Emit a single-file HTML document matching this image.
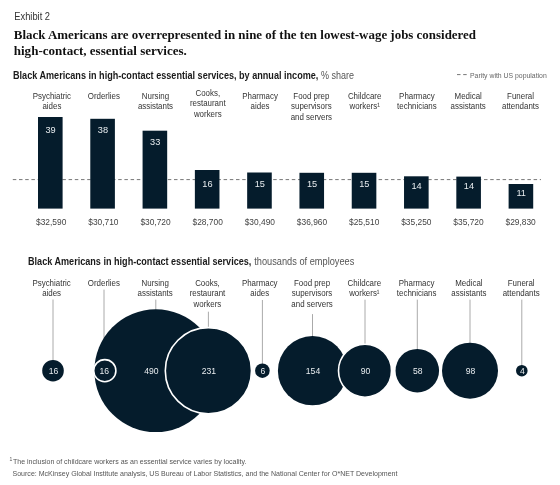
<!DOCTYPE html>
<html><head><meta charset="utf-8"><style>
html,body{margin:0;padding:0;background:#fff;}
svg{display:block;filter:blur(0.35px);}
</style></head><body>
<svg width="560" height="485" viewBox="0 0 560 485">
<rect width="560" height="485" fill="#fff"/>
<text x="14.25" y="20" font-family="Liberation Sans" font-size="10" font-weight="normal" text-anchor="start" fill="#333" textLength="35.75" lengthAdjust="spacingAndGlyphs">Exhibit 2</text>
<text x="13.75" y="38.8" font-family="Liberation Serif" font-size="13.4" font-weight="bold" text-anchor="start" fill="#111" textLength="462.3" lengthAdjust="spacingAndGlyphs">Black Americans are overrepresented in nine of the ten lowest-wage jobs considered</text>
<text x="13.75" y="54.6" font-family="Liberation Serif" font-size="13.4" font-weight="bold" text-anchor="start" fill="#111" textLength="173.1" lengthAdjust="spacingAndGlyphs">high-contact, essential services.</text>
<text x="13" y="78.6" font-family="Liberation Sans" font-size="10" font-weight="bold" text-anchor="start" fill="#1a1a1a" textLength="305.4" lengthAdjust="spacingAndGlyphs">Black Americans in high-contact essential services, by annual income,</text>
<text x="321" y="78.6" font-family="Liberation Sans" font-size="10" font-weight="normal" text-anchor="start" fill="#555" textLength="33" lengthAdjust="spacingAndGlyphs">% share</text>
<line x1="457" y1="74.6" x2="467" y2="74.6" stroke="#777" stroke-width="1" stroke-dasharray="3.5 2.7"/>
<text x="470" y="77.6" font-family="Liberation Sans" font-size="7.5" font-weight="normal" text-anchor="start" fill="#666" textLength="76.7" lengthAdjust="spacingAndGlyphs">Parity with US population</text>
<line x1="12.8" y1="179.6" x2="541" y2="179.6" stroke="#777" stroke-width="1" stroke-dasharray="3.5 2.7"/>
<rect x="38.00" y="117" width="24.6" height="91.60" fill="#051c2c"/>
<text x="50.60" y="132.6" font-family="Liberation Sans" font-size="9.2" font-weight="normal" text-anchor="middle" fill="#e8ecef">39</text>
<text x="51.20" y="224.6" font-family="Liberation Sans" font-size="8.4" font-weight="normal" text-anchor="middle" fill="#444">$32,590</text>
<text x="51.90" y="98.6" font-family="Liberation Sans" font-size="9" font-weight="normal" text-anchor="middle" fill="#333" textLength="38.29" lengthAdjust="spacingAndGlyphs">Psychiatric</text>
<text x="51.90" y="109.3" font-family="Liberation Sans" font-size="9" font-weight="normal" text-anchor="middle" fill="#333" textLength="18.93" lengthAdjust="spacingAndGlyphs">aides</text>
<rect x="90.29" y="118.8" width="24.6" height="89.80" fill="#051c2c"/>
<text x="102.89" y="133.0" font-family="Liberation Sans" font-size="9.2" font-weight="normal" text-anchor="middle" fill="#e8ecef">38</text>
<text x="103.36" y="224.6" font-family="Liberation Sans" font-size="8.4" font-weight="normal" text-anchor="middle" fill="#444">$30,710</text>
<text x="103.79" y="98.6" font-family="Liberation Sans" font-size="9" font-weight="normal" text-anchor="middle" fill="#333" textLength="32.13" lengthAdjust="spacingAndGlyphs">Orderlies</text>
<rect x="142.58" y="130.7" width="24.6" height="77.90" fill="#051c2c"/>
<text x="155.18" y="145.0" font-family="Liberation Sans" font-size="9.2" font-weight="normal" text-anchor="middle" fill="#e8ecef">33</text>
<text x="155.52" y="224.6" font-family="Liberation Sans" font-size="8.4" font-weight="normal" text-anchor="middle" fill="#444">$30,720</text>
<text x="155.48" y="98.6" font-family="Liberation Sans" font-size="9" font-weight="normal" text-anchor="middle" fill="#333" textLength="27.29" lengthAdjust="spacingAndGlyphs">Nursing</text>
<text x="155.48" y="109.3" font-family="Liberation Sans" font-size="9" font-weight="normal" text-anchor="middle" fill="#333" textLength="35.21" lengthAdjust="spacingAndGlyphs">assistants</text>
<rect x="194.87" y="170.0" width="24.6" height="38.60" fill="#051c2c"/>
<text x="207.47" y="186.7" font-family="Liberation Sans" font-size="9.2" font-weight="normal" text-anchor="middle" fill="#e8ecef">16</text>
<text x="207.68" y="224.6" font-family="Liberation Sans" font-size="8.4" font-weight="normal" text-anchor="middle" fill="#444">$28,700</text>
<text x="207.77" y="95.6" font-family="Liberation Sans" font-size="9" font-weight="normal" text-anchor="middle" fill="#333" textLength="24.65" lengthAdjust="spacingAndGlyphs">Cooks,</text>
<text x="207.77" y="106.3" font-family="Liberation Sans" font-size="9" font-weight="normal" text-anchor="middle" fill="#333" textLength="35.66" lengthAdjust="spacingAndGlyphs">restaurant</text>
<text x="207.77" y="117.0" font-family="Liberation Sans" font-size="9" font-weight="normal" text-anchor="middle" fill="#333" textLength="27.72" lengthAdjust="spacingAndGlyphs">workers</text>
<rect x="247.16" y="172.5" width="24.6" height="36.10" fill="#051c2c"/>
<text x="259.76" y="186.7" font-family="Liberation Sans" font-size="9.2" font-weight="normal" text-anchor="middle" fill="#e8ecef">15</text>
<text x="259.84" y="224.6" font-family="Liberation Sans" font-size="8.4" font-weight="normal" text-anchor="middle" fill="#444">$30,490</text>
<text x="260.06" y="98.6" font-family="Liberation Sans" font-size="9" font-weight="normal" text-anchor="middle" fill="#333" textLength="35.65" lengthAdjust="spacingAndGlyphs">Pharmacy</text>
<text x="260.06" y="109.3" font-family="Liberation Sans" font-size="9" font-weight="normal" text-anchor="middle" fill="#333" textLength="18.93" lengthAdjust="spacingAndGlyphs">aides</text>
<rect x="299.45" y="172.8" width="24.6" height="35.80" fill="#051c2c"/>
<text x="312.05" y="186.7" font-family="Liberation Sans" font-size="9.2" font-weight="normal" text-anchor="middle" fill="#e8ecef">15</text>
<text x="312.00" y="224.6" font-family="Liberation Sans" font-size="8.4" font-weight="normal" text-anchor="middle" fill="#444">$36,960</text>
<text x="311.35" y="98.6" font-family="Liberation Sans" font-size="9" font-weight="normal" text-anchor="middle" fill="#333" textLength="36.10" lengthAdjust="spacingAndGlyphs">Food prep</text>
<text x="311.35" y="109.3" font-family="Liberation Sans" font-size="9" font-weight="normal" text-anchor="middle" fill="#333" textLength="40.49" lengthAdjust="spacingAndGlyphs">supervisors</text>
<text x="311.35" y="120.0" font-family="Liberation Sans" font-size="9" font-weight="normal" text-anchor="middle" fill="#333" textLength="41.38" lengthAdjust="spacingAndGlyphs">and servers</text>
<rect x="351.74" y="172.8" width="24.6" height="35.80" fill="#051c2c"/>
<text x="364.34" y="186.7" font-family="Liberation Sans" font-size="9.2" font-weight="normal" text-anchor="middle" fill="#e8ecef">15</text>
<text x="364.16" y="224.6" font-family="Liberation Sans" font-size="8.4" font-weight="normal" text-anchor="middle" fill="#444">$25,510</text>
<text x="364.64" y="98.6" font-family="Liberation Sans" font-size="9" font-weight="normal" text-anchor="middle" fill="#333" textLength="33.46" lengthAdjust="spacingAndGlyphs">Childcare</text>
<text x="364.64" y="109.3" font-family="Liberation Sans" font-size="9" font-weight="normal" text-anchor="middle" fill="#333" textLength="30.36" lengthAdjust="spacingAndGlyphs">workers¹</text>
<rect x="404.03" y="176.3" width="24.6" height="32.30" fill="#051c2c"/>
<text x="416.63" y="188.6" font-family="Liberation Sans" font-size="9.2" font-weight="normal" text-anchor="middle" fill="#e8ecef">14</text>
<text x="416.32" y="224.6" font-family="Liberation Sans" font-size="8.4" font-weight="normal" text-anchor="middle" fill="#444">$35,250</text>
<text x="416.93" y="98.6" font-family="Liberation Sans" font-size="9" font-weight="normal" text-anchor="middle" fill="#333" textLength="35.65" lengthAdjust="spacingAndGlyphs">Pharmacy</text>
<text x="416.93" y="109.3" font-family="Liberation Sans" font-size="9" font-weight="normal" text-anchor="middle" fill="#333" textLength="39.62" lengthAdjust="spacingAndGlyphs">technicians</text>
<rect x="456.32" y="176.6" width="24.6" height="32.00" fill="#051c2c"/>
<text x="468.92" y="188.6" font-family="Liberation Sans" font-size="9.2" font-weight="normal" text-anchor="middle" fill="#e8ecef">14</text>
<text x="468.48" y="224.6" font-family="Liberation Sans" font-size="8.4" font-weight="normal" text-anchor="middle" fill="#444">$35,720</text>
<text x="468.22" y="98.6" font-family="Liberation Sans" font-size="9" font-weight="normal" text-anchor="middle" fill="#333" textLength="27.29" lengthAdjust="spacingAndGlyphs">Medical</text>
<text x="468.22" y="109.3" font-family="Liberation Sans" font-size="9" font-weight="normal" text-anchor="middle" fill="#333" textLength="35.21" lengthAdjust="spacingAndGlyphs">assistants</text>
<rect x="508.61" y="184" width="24.6" height="24.60" fill="#051c2c"/>
<text x="521.21" y="195.7" font-family="Liberation Sans" font-size="9.2" font-weight="normal" text-anchor="middle" fill="#e8ecef">11</text>
<text x="520.64" y="224.6" font-family="Liberation Sans" font-size="8.4" font-weight="normal" text-anchor="middle" fill="#444">$29,830</text>
<text x="520.51" y="98.6" font-family="Liberation Sans" font-size="9" font-weight="normal" text-anchor="middle" fill="#333" textLength="26.85" lengthAdjust="spacingAndGlyphs">Funeral</text>
<text x="520.51" y="109.3" font-family="Liberation Sans" font-size="9" font-weight="normal" text-anchor="middle" fill="#333" textLength="36.99" lengthAdjust="spacingAndGlyphs">attendants</text>
<text x="28" y="264.9" font-family="Liberation Sans" font-size="10" font-weight="bold" text-anchor="start" fill="#1a1a1a" textLength="223.4" lengthAdjust="spacingAndGlyphs">Black Americans in high-contact essential services,</text>
<text x="254.3" y="264.9" font-family="Liberation Sans" font-size="10" font-weight="normal" text-anchor="start" fill="#555" textLength="100" lengthAdjust="spacingAndGlyphs">thousands of employees</text>
<text x="51.60" y="285.7" font-family="Liberation Sans" font-size="9" font-weight="normal" text-anchor="middle" fill="#333" textLength="38.29" lengthAdjust="spacingAndGlyphs">Psychiatric</text>
<text x="51.60" y="296.4" font-family="Liberation Sans" font-size="9" font-weight="normal" text-anchor="middle" fill="#333" textLength="18.93" lengthAdjust="spacingAndGlyphs">aides</text>
<line x1="53.00" y1="299.5" x2="53.00" y2="360.9" stroke="#aaa" stroke-width="1"/>
<text x="103.89" y="285.7" font-family="Liberation Sans" font-size="9" font-weight="normal" text-anchor="middle" fill="#333" textLength="32.13" lengthAdjust="spacingAndGlyphs">Orderlies</text>
<line x1="104.00" y1="289.6" x2="104.00" y2="360.6" stroke="#aaa" stroke-width="1"/>
<text x="155.18" y="285.7" font-family="Liberation Sans" font-size="9" font-weight="normal" text-anchor="middle" fill="#333" textLength="27.29" lengthAdjust="spacingAndGlyphs">Nursing</text>
<text x="155.18" y="296.4" font-family="Liberation Sans" font-size="9" font-weight="normal" text-anchor="middle" fill="#333" textLength="35.21" lengthAdjust="spacingAndGlyphs">assistants</text>
<line x1="155.80" y1="299.6" x2="155.80" y2="310.3" stroke="#aaa" stroke-width="1"/>
<text x="207.47" y="285.7" font-family="Liberation Sans" font-size="9" font-weight="normal" text-anchor="middle" fill="#333" textLength="24.65" lengthAdjust="spacingAndGlyphs">Cooks,</text>
<text x="207.47" y="296.4" font-family="Liberation Sans" font-size="9" font-weight="normal" text-anchor="middle" fill="#333" textLength="35.66" lengthAdjust="spacingAndGlyphs">restaurant</text>
<text x="207.47" y="307.1" font-family="Liberation Sans" font-size="9" font-weight="normal" text-anchor="middle" fill="#333" textLength="27.72" lengthAdjust="spacingAndGlyphs">workers</text>
<line x1="208.40" y1="311.7" x2="208.40" y2="328.6" stroke="#aaa" stroke-width="1"/>
<text x="259.76" y="285.7" font-family="Liberation Sans" font-size="9" font-weight="normal" text-anchor="middle" fill="#333" textLength="35.65" lengthAdjust="spacingAndGlyphs">Pharmacy</text>
<text x="259.76" y="296.4" font-family="Liberation Sans" font-size="9" font-weight="normal" text-anchor="middle" fill="#333" textLength="18.93" lengthAdjust="spacingAndGlyphs">aides</text>
<line x1="262.40" y1="300.0" x2="262.40" y2="364.4" stroke="#aaa" stroke-width="1"/>
<text x="312.05" y="285.7" font-family="Liberation Sans" font-size="9" font-weight="normal" text-anchor="middle" fill="#333" textLength="36.10" lengthAdjust="spacingAndGlyphs">Food prep</text>
<text x="312.05" y="296.4" font-family="Liberation Sans" font-size="9" font-weight="normal" text-anchor="middle" fill="#333" textLength="40.49" lengthAdjust="spacingAndGlyphs">supervisors</text>
<text x="312.05" y="307.1" font-family="Liberation Sans" font-size="9" font-weight="normal" text-anchor="middle" fill="#333" textLength="41.38" lengthAdjust="spacingAndGlyphs">and servers</text>
<line x1="312.50" y1="314.1" x2="312.50" y2="337.1" stroke="#aaa" stroke-width="1"/>
<text x="364.34" y="285.7" font-family="Liberation Sans" font-size="9" font-weight="normal" text-anchor="middle" fill="#333" textLength="33.46" lengthAdjust="spacingAndGlyphs">Childcare</text>
<text x="364.34" y="296.4" font-family="Liberation Sans" font-size="9" font-weight="normal" text-anchor="middle" fill="#333" textLength="30.36" lengthAdjust="spacingAndGlyphs">workers¹</text>
<line x1="365.00" y1="299.7" x2="365.00" y2="345.2" stroke="#aaa" stroke-width="1"/>
<text x="416.63" y="285.7" font-family="Liberation Sans" font-size="9" font-weight="normal" text-anchor="middle" fill="#333" textLength="35.65" lengthAdjust="spacingAndGlyphs">Pharmacy</text>
<text x="416.63" y="296.4" font-family="Liberation Sans" font-size="9" font-weight="normal" text-anchor="middle" fill="#333" textLength="39.62" lengthAdjust="spacingAndGlyphs">technicians</text>
<line x1="417.30" y1="299.6" x2="417.30" y2="349.9" stroke="#aaa" stroke-width="1"/>
<text x="468.92" y="285.7" font-family="Liberation Sans" font-size="9" font-weight="normal" text-anchor="middle" fill="#333" textLength="27.29" lengthAdjust="spacingAndGlyphs">Medical</text>
<text x="468.92" y="296.4" font-family="Liberation Sans" font-size="9" font-weight="normal" text-anchor="middle" fill="#333" textLength="35.21" lengthAdjust="spacingAndGlyphs">assistants</text>
<line x1="470.00" y1="299.6" x2="470.00" y2="343.7" stroke="#aaa" stroke-width="1"/>
<text x="521.21" y="285.7" font-family="Liberation Sans" font-size="9" font-weight="normal" text-anchor="middle" fill="#333" textLength="26.85" lengthAdjust="spacingAndGlyphs">Funeral</text>
<text x="521.21" y="296.4" font-family="Liberation Sans" font-size="9" font-weight="normal" text-anchor="middle" fill="#333" textLength="36.99" lengthAdjust="spacingAndGlyphs">attendants</text>
<line x1="521.80" y1="299.6" x2="521.80" y2="365.9" stroke="#aaa" stroke-width="1"/>
<circle cx="155.80" cy="370.7" r="61.40" fill="#051c2c"/>
<text x="151.30" y="374.3" font-family="Liberation Sans" font-size="8.6" font-weight="normal" text-anchor="middle" fill="#e8ecef">490</text>
<circle cx="53.00" cy="370.7" r="10.80" fill="#051c2c"/>
<text x="53.50" y="374.3" font-family="Liberation Sans" font-size="8.6" font-weight="normal" text-anchor="middle" fill="#e8ecef">16</text>
<circle cx="104.80" cy="370.7" r="11.10" fill="#051c2c" stroke="#fff" stroke-width="1.6"/>
<text x="104.20" y="374.3" font-family="Liberation Sans" font-size="8.6" font-weight="normal" text-anchor="middle" fill="#e8ecef">16</text>
<circle cx="208.40" cy="370.7" r="43.10" fill="#051c2c" stroke="#fff" stroke-width="1.6"/>
<text x="208.90" y="374.3" font-family="Liberation Sans" font-size="8.6" font-weight="normal" text-anchor="middle" fill="#e8ecef">231</text>
<circle cx="262.40" cy="370.7" r="7.30" fill="#051c2c"/>
<text x="262.90" y="374.3" font-family="Liberation Sans" font-size="8.6" font-weight="normal" text-anchor="middle" fill="#e8ecef">6</text>
<circle cx="312.50" cy="370.7" r="34.60" fill="#051c2c"/>
<text x="313.00" y="374.3" font-family="Liberation Sans" font-size="8.6" font-weight="normal" text-anchor="middle" fill="#e8ecef">154</text>
<circle cx="365.00" cy="370.7" r="26.50" fill="#051c2c" stroke="#fff" stroke-width="1.6"/>
<text x="365.50" y="374.3" font-family="Liberation Sans" font-size="8.6" font-weight="normal" text-anchor="middle" fill="#e8ecef">90</text>
<circle cx="417.30" cy="370.7" r="21.75" fill="#051c2c"/>
<text x="417.80" y="374.3" font-family="Liberation Sans" font-size="8.6" font-weight="normal" text-anchor="middle" fill="#e8ecef">58</text>
<circle cx="470.00" cy="370.7" r="28.00" fill="#051c2c"/>
<text x="470.50" y="374.3" font-family="Liberation Sans" font-size="8.6" font-weight="normal" text-anchor="middle" fill="#e8ecef">98</text>
<circle cx="521.80" cy="370.7" r="5.80" fill="#051c2c"/>
<text x="522.30" y="374.3" font-family="Liberation Sans" font-size="8.6" font-weight="normal" text-anchor="middle" fill="#e8ecef">4</text>
<text x="9.5" y="460.5" font-family="Liberation Sans" font-size="5" font-weight="normal" text-anchor="start" fill="#555">1</text>
<text x="13" y="463.5" font-family="Liberation Sans" font-size="7" font-weight="normal" text-anchor="start" fill="#555" textLength="233.5" lengthAdjust="spacingAndGlyphs">The inclusion of childcare workers as an essential service varies by locality.</text>
<text x="12.5" y="475.5" font-family="Liberation Sans" font-size="7" font-weight="normal" text-anchor="start" fill="#555" textLength="385" lengthAdjust="spacingAndGlyphs">Source: McKinsey Global Institute analysis, US Bureau of Labor Statistics, and the National Center for O*NET Development</text>
</svg></body></html>
